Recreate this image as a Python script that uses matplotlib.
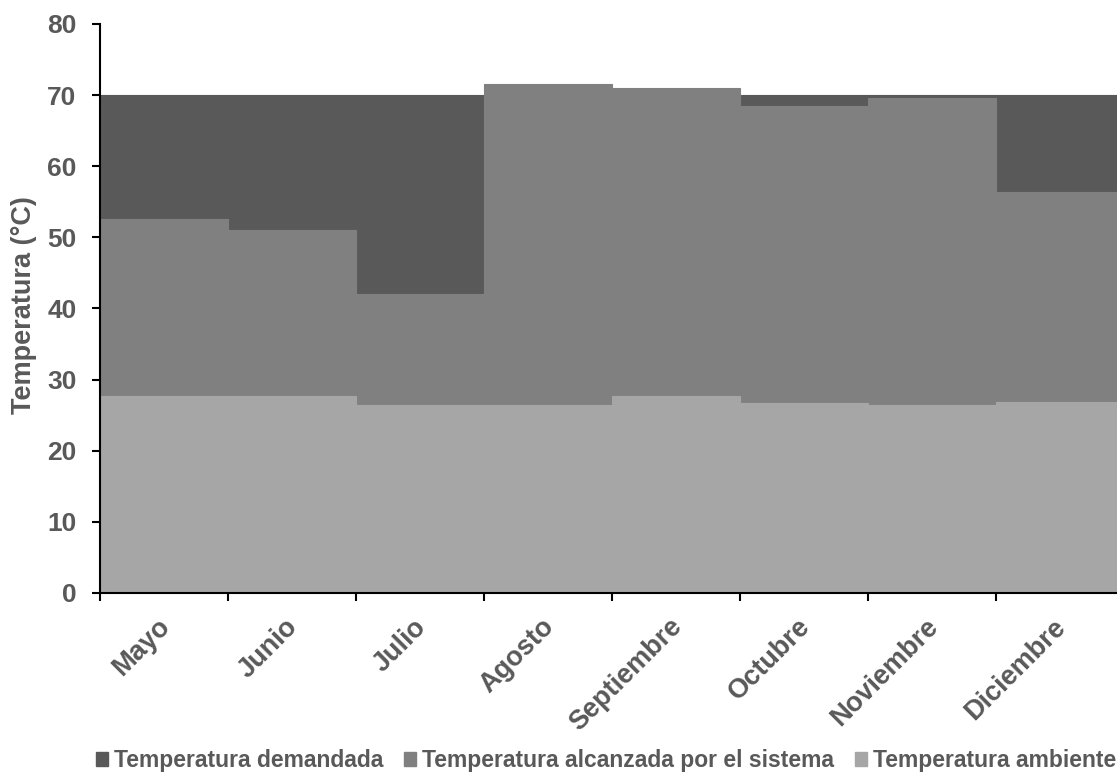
import matplotlib
matplotlib.use("Agg")
import matplotlib.pyplot as plt
import matplotlib.transforms as mtransforms
from matplotlib.patches import Patch
from matplotlib.ticker import FixedLocator

meses = ["Mayo", "Junio", "Julio", "Agosto", "Septiembre", "Octubre", "Noviembre", "Diciembre"]
demandada = [70, 70, 70, 70, 70, 70, 70, 70]
alcanzada = [52.6, 51.0, 42.0, 71.6, 71.0, 68.5, 69.6, 56.4]
ambiente = [27.7, 27.7, 26.4, 26.4, 27.7, 26.7, 26.4, 26.9]
series_names = ["Temperatura demandada", "Temperatura alcanzada por el sistema", "Temperatura ambiente"]
colors = ["#595959", "#808080", "#a6a6a6"]

plt.rcParams['font.family'] = ['Liberation Sans', 'DejaVu Sans']
txt = "#595959"

fig = plt.figure(figsize=(11.17, 7.75), dpi=100)
ax = fig.add_axes([100/1117, 1-593/775, 1024/1117, (593-24)/775])

x = list(range(len(meses)))
for vals, c in zip([demandada, alcanzada, ambiente], colors):
    ax.bar(x, vals, width=1.0, color=c, edgecolor=c, linewidth=0.8)

ax.set_xlim(-0.5, len(meses) - 0.5)
ax.set_ylim(0, 80)
ax.set_yticks(range(0, 81, 10))
ax.set_xticks(x)
ax.xaxis.set_minor_locator(FixedLocator([i - 0.5 for i in range(len(meses) + 1)]))
ax.tick_params(axis='x', which='major', length=0, pad=15)
ax.tick_params(axis='x', which='minor', length=6, width=1.5, direction='out', color='black')
ax.tick_params(axis='y', length=6, width=1.5, direction='out', color='black', pad=11)
ax.set_xticklabels(meses, rotation=45, ha='right', va='top', rotation_mode='anchor',
                   fontsize=19.5, fontweight='bold', color=txt)
for lab in ax.get_yticklabels():
    lab.set_fontsize(19)
    lab.set_fontweight('bold')
    lab.set_color(txt)

for s in ['top', 'right']:
    ax.spines[s].set_visible(False)
for s in ['left', 'bottom']:
    ax.spines[s].set_linewidth(1.5)
    ax.spines[s].set_color('black')

fig.text(24/1117, 1-305/775, "Temperatura (°C)", rotation=90, ha='center', va='center',
         fontsize=19.5, fontweight='bold', color=txt)

handles = [Patch(facecolor=c, edgecolor=c) for c in colors]
fig.legend(handles, series_names, loc='center', bbox_to_anchor=(606/1117, 1-761/775),
           ncol=3, frameon=False, handlelength=0.55, handleheight=0.55, handletextpad=0.25,
           columnspacing=0.9, borderaxespad=0, borderpad=0,
           prop={'size': 16.5, 'weight': 'bold'}, labelcolor=txt)

# shift x tick labels slightly left (applied after all tick_params calls)
offset = mtransforms.ScaledTranslation(-7/100, 0, fig.dpi_scale_trans)
for tick in ax.xaxis.get_major_ticks():
    tick.label1.set_transform(tick.label1.get_transform() + offset)

fig.savefig("out.png", dpi=100)
